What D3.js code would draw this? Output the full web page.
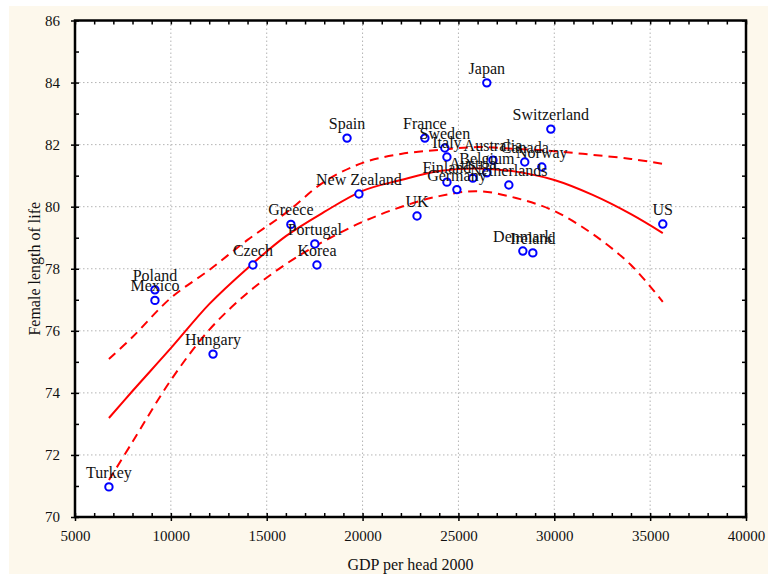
<!DOCTYPE html>
<html>
<head>
<meta charset="utf-8">
<script src="https://cdn.jsdelivr.net/npm/d3@7"></script>
<style>
  body { margin: 0; background: #ffffff; }
  svg text { font-family: "Liberation Serif", "DejaVu Serif", serif; fill: #111; }
  .grid line { stroke: #b4b4b4; stroke-dasharray: 1.5,2.5; }
  .axis path { display: none; }
  .axis line { stroke: #000; stroke-width: 1.5; }
</style>
</head>
<body>
<div id="chart"></div>
<script>
// Countries and values
const countries = ['Turkey', 'Poland', 'Mexico', 'Hungary', 'Czech', 'Greece', 'Portugal', 'Korea',
  'New Zealand', 'Spain', 'UK', 'France', 'Sweden', 'Italy', 'Japan', 'Switzerland', 'Australia',
  'Canada', 'Norway', 'Belgium', 'Austria', 'Finland', 'Germany', 'Netherlands', 'Denmark', 'Ireland', 'US'];
const gdpPerHead = [6770, 9170, 9170, 12200, 14280, 16260, 17510, 17620,
  19810, 19190, 22840, 23250, 24290, 24400, 26480, 29820, 26800,
  28460, 29350, 26480, 25750, 24400, 24920, 27630, 28360, 28880, 35660];
const femaleLife = [70.97, 77.32, 76.98, 75.25, 78.12, 79.43, 78.80, 78.12,
  80.41, 82.21, 79.70, 82.21, 81.89, 81.60, 83.99, 82.50, 81.50,
  81.44, 81.28, 81.09, 80.92, 80.79, 80.55, 80.70, 78.57, 78.51, 79.44];

// Fitted curve and its confidence band
const fitGdp = [6770, 8000, 10000, 12000, 14000, 16000, 18000, 20000, 22000, 24000, 26000, 28000, 30000, 32000, 34000, 35660];
const fitMid = [73.19, 74.06, 75.44, 76.86, 78.02, 79.05, 79.83, 80.51, 80.86, 81.15, 81.23, 81.13, 80.86, 80.38, 79.76, 79.15];
const fitUpper = [75.09, 75.80, 77.06, 77.96, 78.93, 79.80, 80.80, 81.41, 81.70, 81.83, 81.92, 81.86, 81.79, 81.67, 81.54, 81.38];
const fitLower = [71.19, 72.42, 74.41, 76.03, 77.22, 78.15, 78.89, 79.51, 79.99, 80.34, 80.50, 80.28, 79.86, 79.12, 78.12, 76.93];

const xTicks = [5000, 10000, 15000, 20000, 25000, 30000, 35000, 40000];
const yTicks = [70, 72, 74, 76, 78, 80, 82, 84, 86];
const xMinor = d3.range(5000, 40001, 1000);
const yMinor = d3.range(70, 86.5, 1);

const width = 768, height = 580;
const plot = {left: 75, top: 20.5, right: 746, bottom: 517};

const svg = d3.select('#chart')
  .append('svg')
    .attr('width', width)
    .attr('height', height);

// cream page background, white plot area
svg.append('rect')
  .attr('x', 9).attr('y', 6)
  .attr('width', width - 9).attr('height', 568)
  .attr('fill', '#fdf8ec');
svg.append('rect')
  .attr('x', plot.left).attr('y', plot.top)
  .attr('width', plot.right - plot.left).attr('height', plot.bottom - plot.top)
  .attr('fill', '#ffffff');

const x = d3.scaleLinear().domain([5000, 40000]).range([plot.left, plot.right]);
const y = d3.scaleLinear().domain([70, 86]).range([plot.bottom, plot.top]);

// Grid
svg.append('g')
  .attr('class', 'grid')
  .selectAll('line')
  .data(xTicks.slice(1, -1))
  .enter().append('line')
    .attr('x1', d => x(d)).attr('x2', d => x(d))
    .attr('y1', plot.top).attr('y2', plot.bottom);
svg.append('g')
  .attr('class', 'grid')
  .selectAll('line')
  .data(yTicks.slice(1, -1))
  .enter().append('line')
    .attr('x1', plot.left).attr('x2', plot.right)
    .attr('y1', d => y(d)).attr('y2', d => y(d));

// Axes: minor ticks point inward, major ticks outward with labels
svg.append('g')
  .attr('class', 'axis')
  .attr('transform', 'translate(0,' + plot.bottom + ')')
  .call(d3.axisBottom(x).tickValues(xMinor).tickSize(-4).tickFormat(''));
svg.append('g')
  .attr('class', 'axis')
  .attr('transform', 'translate(0,' + plot.bottom + ')')
  .call(d3.axisBottom(x).tickValues(xTicks).tickSize(4).tickPadding(9).tickFormat(d3.format('')))
  .selectAll('text')
    .style('font-size', '15px');
svg.append('g')
  .attr('class', 'axis')
  .attr('transform', 'translate(0,' + plot.top + ')')
  .call(d3.axisTop(x).tickValues(xMinor).tickSize(-4).tickFormat(''));

svg.append('g')
  .attr('class', 'axis')
  .attr('transform', 'translate(' + plot.left + ',0)')
  .call(d3.axisLeft(y).tickValues(yMinor).tickSize(-4).tickFormat(''));
svg.append('g')
  .attr('class', 'axis')
  .attr('transform', 'translate(' + plot.left + ',0)')
  .call(d3.axisLeft(y).tickValues(yTicks).tickSize(4).tickPadding(11))
  .selectAll('text')
    .style('font-size', '15px');
svg.append('g')
  .attr('class', 'axis')
  .attr('transform', 'translate(' + plot.right + ',0)')
  .call(d3.axisRight(y).tickValues(yMinor).tickSize(-4).tickFormat(''));

// Frame
svg.append('rect')
  .attr('x', plot.left).attr('y', plot.top)
  .attr('width', plot.right - plot.left).attr('height', plot.bottom - plot.top)
  .attr('fill', 'none')
  .attr('stroke', '#000')
  .attr('stroke-width', 2.5);

// Axis titles
svg.append('text')
  .attr('x', (plot.left + plot.right) / 2)
  .attr('y', 570)
  .attr('text-anchor', 'middle')
  .style('font-size', '16px')
  .text('GDP per head 2000');
svg.append('text')
  .attr('transform', 'translate(40,' + (plot.top + plot.bottom) / 2 + ') rotate(-90)')
  .attr('text-anchor', 'middle')
  .style('font-size', '16px')
  .text('Female length of life');

// Fit lines
const fitLine = key => d3.line()
  .x((d, i) => x(fitGdp[i]))
  .y(d => y(d))
  .curve(d3.curveCatmullRom.alpha(0.5))(key);

svg.append('path')
  .attr('d', fitLine(fitMid))
  .attr('fill', 'none')
  .attr('stroke', '#ff0000')
  .attr('stroke-width', 2);
[fitUpper, fitLower].forEach(band => {
  svg.append('path')
    .attr('d', fitLine(band))
    .attr('fill', 'none')
    .attr('stroke', '#ff0000')
    .attr('stroke-width', 2)
    .attr('stroke-dasharray', '9,6');
});

// Points and labels
const points = countries.map((c, i) => ({name: c, gdp: gdpPerHead[i], life: femaleLife[i]}));

svg.append('g')
  .selectAll('circle')
  .data(points)
  .enter().append('circle')
    .attr('cx', d => x(d.gdp))
    .attr('cy', d => y(d.life))
    .attr('r', 3.7)
    .attr('fill', '#ffffff')
    .attr('stroke', '#0000ff')
    .attr('stroke-width', 2);

svg.append('g')
  .selectAll('text')
  .data(points)
  .enter().append('text')
    .attr('x', d => x(d.gdp))
    .attr('y', d => y(d.life) - 9)
    .attr('text-anchor', 'middle')
    .style('font-size', '16px')
    .text(d => d.name);
</script>
</body>
</html>
